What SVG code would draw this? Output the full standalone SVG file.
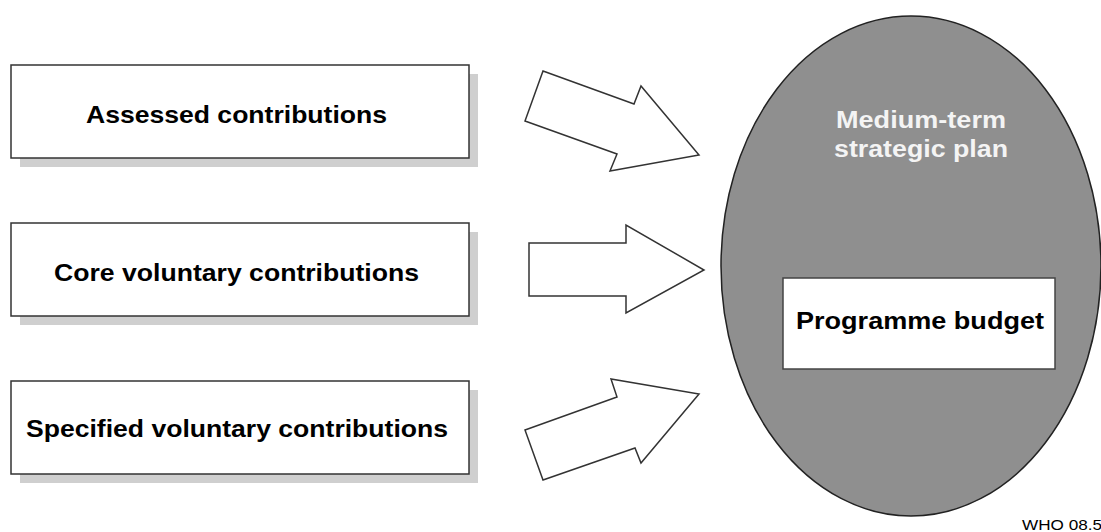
<svg xmlns="http://www.w3.org/2000/svg" width="1101" height="532" viewBox="0 0 1101 532">
<style>
.box{fill:#fff;stroke:#333;stroke-width:1.5}
.shadow{fill:#cfcfcf}
.lbl{font-family:"Liberation Sans",Arial,sans-serif;font-weight:bold;font-size:24.5px;fill:#000;text-anchor:middle}
.wl{font-family:"Liberation Sans",Arial,sans-serif;font-weight:bold;font-size:23px;fill:#f4f4f4;text-anchor:middle}
.arrow{fill:#fff;stroke:#333;stroke-width:1.5;stroke-linejoin:miter}
</style>
<rect width="1101" height="532" fill="#fff"/>
<g id="n-assessed">
<rect class="shadow" x="20" y="74" width="458" height="93"/>
<rect class="box" x="11" y="65" width="458" height="93"/>
<text class="lbl" x="236.5" y="123" textLength="301" lengthAdjust="spacingAndGlyphs">Assessed contributions</text>
</g>
<g id="n-core">
<rect class="shadow" x="20" y="232" width="458" height="93"/>
<rect class="box" x="11" y="223" width="458" height="93"/>
<text class="lbl" x="236.5" y="281" textLength="365" lengthAdjust="spacingAndGlyphs">Core voluntary contributions</text>
</g>
<g id="n-specified">
<rect class="shadow" x="20" y="390" width="458" height="93"/>
<rect class="box" x="11" y="381" width="458" height="93"/>
<text class="lbl" x="237" y="437" textLength="422" lengthAdjust="spacingAndGlyphs">Specified voluntary contributions</text>
</g>
<g id="n-mtsp">
<ellipse cx="911" cy="266" rx="190" ry="250" fill="#8f8f8f" stroke="#222" stroke-width="1.5"/>
<text class="wl" x="921" y="128" textLength="170" lengthAdjust="spacingAndGlyphs">Medium-term</text>
<text class="wl" x="921" y="157" textLength="174" lengthAdjust="spacingAndGlyphs">strategic plan</text>
</g>
<g id="n-budget">
<rect x="783" y="278" width="272" height="91" fill="#fff" stroke="#444" stroke-width="1.5"/>
<text class="lbl" x="920" y="329" textLength="248" lengthAdjust="spacingAndGlyphs">Programme budget</text>
</g>
<g id="connectors">
<polygon class="arrow" points="543,71 634,104 641,86 699,155 610,171 617,154 525,121"/>
<polygon class="arrow" points="529,243 626,243 626,225 704,270 626,313 626,296 529,296"/>
<polygon class="arrow" points="525,430 617,397 611,379 699,394 641,463 635,448 543,480"/>
</g>
<text x="1022" y="530" font-family="Liberation Sans,Arial,sans-serif" font-size="14.5" fill="#000" textLength="80" lengthAdjust="spacingAndGlyphs">WHO 08.5</text>
</svg>
